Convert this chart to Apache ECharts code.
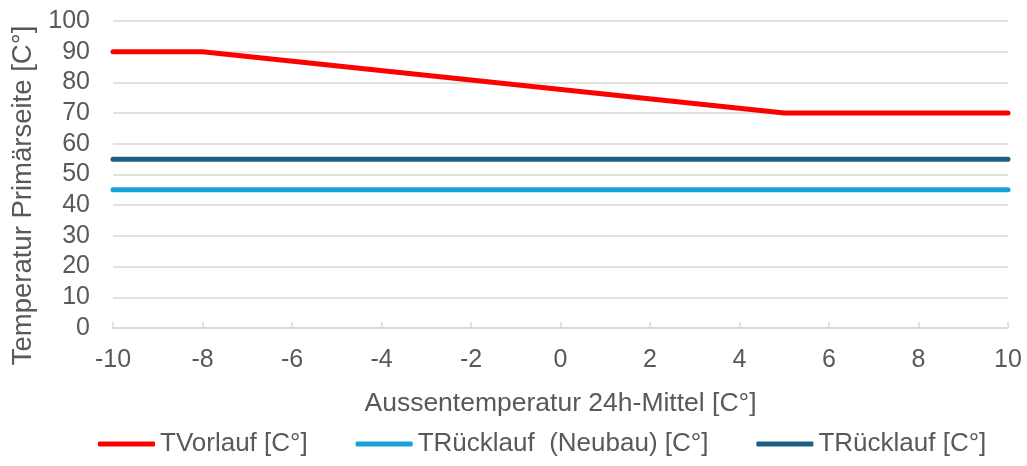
<!DOCTYPE html>
<html><head><meta charset="utf-8">
<script src="https://cdn.jsdelivr.net/npm/echarts@6/dist/echarts.min.js"></script>
<style>html,body{margin:0;padding:0;background:#fff}#c{width:1027px;height:466px}</style>
</head><body><div id="c"></div>
<script>
const seriesNames = ['TVorlauf [C°]', 'TRücklauf  (Neubau) [C°]', 'TRücklauf [C°]'];
const vorlauf = [[-10, 90], [-8, 90], [5, 70], [10, 70]];
const ruecklaufNeubau = [[-10, 45], [10, 45]];
const ruecklauf = [[-10, 55], [10, 55]];
const xAxisName = 'Aussentemperatur 24h-Mittel [C°]';
const yAxisName = 'Temperatur Primärseite [C°]';
const colors = ['#ff0000', '#16a2d8', '#1d5f83'];

const font = 'Liberation Sans, Arial, sans-serif';
const chart = echarts.init(document.getElementById('c'));
const mk = (name, data, color) => ({
  name, type: 'line', data, symbol: 'none', color,
  lineStyle: { width: 5, color, cap: 'round', join: 'round' },
  animation: false
});
chart.setOption({
  textStyle: { fontFamily: font },
  grid: { left: 113, right: 19, top: 21, bottom: 138 },
  legend: {
    bottom: 4, left: 93, itemWidth: 57, itemHeight: 5, itemGap: 48,
    icon: 'roundRect',
    textStyle: { fontSize: 26, color: '#595959', fontFamily: font },
    data: seriesNames
  },
  xAxis: {
    type: 'value', min: -10, max: 10, interval: 2,
    name: xAxisName, nameLocation: 'middle', nameGap: 62,
    nameTextStyle: { fontSize: 26.5, color: '#595959', fontFamily: font },
    axisLine: { show: true, lineStyle: { color: '#d9d9d9', width: 1.5 } },
    axisTick: { show: true, inside: true, length: 6, lineStyle: { color: '#d9d9d9', width: 1.5 } },
    axisLabel: { fontSize: 25, color: '#595959', margin: 20, fontFamily: font },
    splitLine: { show: false }
  },
  yAxis: {
    type: 'value', min: 0, max: 100, interval: 10,
    name: yAxisName, nameLocation: 'middle', nameGap: 71, nameRotate: 90,
    nameTextStyle: { fontSize: 27.5, color: '#595959', fontFamily: font, padding: [0, 42, 0, 0] },
    axisLine: { show: false }, axisTick: { show: false },
    axisLabel: { fontSize: 25, color: '#595959', margin: 23, fontFamily: font },
    splitLine: { lineStyle: { color: '#d9d9d9', width: 1.5 } }
  },
  series: [
    mk(seriesNames[0], vorlauf, colors[0]),
    mk(seriesNames[1], ruecklaufNeubau, colors[1]),
    mk(seriesNames[2], ruecklauf, colors[2])
  ]
});
</script></body></html>
